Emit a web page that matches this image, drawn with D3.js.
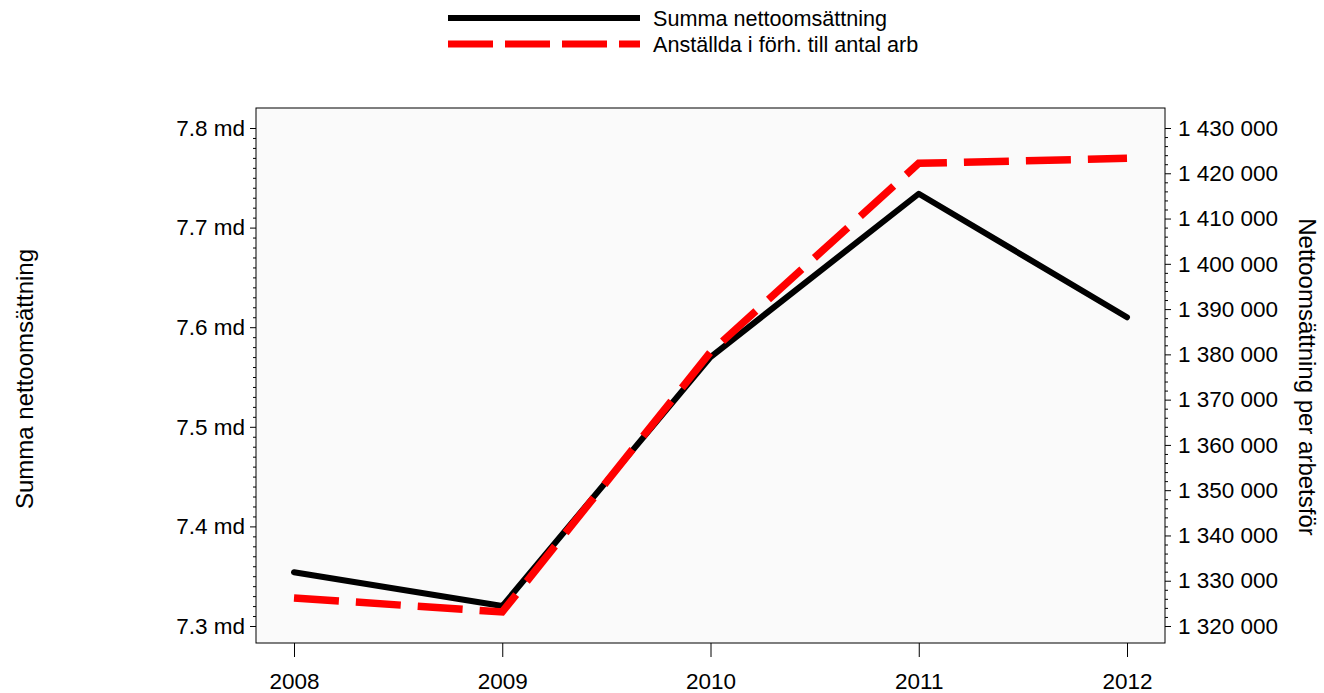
<!DOCTYPE html>
<html lang="sv">
<head>
<meta charset="UTF-8">
<title>Nettoomsättning</title>
<script src="https://d3js.org/d3.v7.min.js"></script>
<style>
    body { margin: 0; background: #ffffff; font-family: "Liberation Sans", Arial, sans-serif; }
    svg text { fill: #000; }
</style>
</head>
<body>
<svg id="chart" width="1324" height="693"></svg>
<script>
    // data
    const years = [2008, 2009, 2010, 2011, 2012];
    const summaNetto = [7.354e9, 7.320e9, 7.570e9, 7.734e9, 7.610e9];
    const perArbetsfor = [1326200, 1323100, 1380500, 1422200, 1423300];
    const leftTicks = [7.3e9, 7.4e9, 7.5e9, 7.6e9, 7.7e9, 7.8e9];
    const rightTicks = [1320000, 1330000, 1340000, 1350000, 1360000, 1370000, 1380000, 1390000, 1400000, 1410000, 1420000, 1430000];
    const seriesNames = ["Summa nettoomsättning", "Anställda i förh. till antal arb"];

    const svg = d3.select("#chart");
    const plot = { left: 256, right: 1165, top: 108, bottom: 643 };
    const font = "Liberation Sans, Arial, sans-serif";

    const x = d3.scalePoint().domain(years).range([294, 1127]);
    const yL = d3.scaleLinear().domain([7.3e9, 7.8e9]).range([626, 128]);
    const yR = d3.scaleLinear().domain([1320000, 1430000]).range([626, 128]);

    svg.append("rect")
        .attr("x", plot.left).attr("y", plot.top)
        .attr("width", plot.right - plot.left).attr("height", plot.bottom - plot.top)
        .attr("fill", "#fafafa").attr("stroke", "#000").attr("stroke-width", 1);

    const fmtL = d => (d / 1e9).toFixed(1) + " md";
    const fmtR = d => d3.format(",")(d).replace(/,/g, " ");

    // minor ticks
    const minorL = d3.range(7.3e9, 7.8e9 + 1, 1e7).filter(v => !leftTicks.some(t => Math.abs(t - v) < 1));
    svg.append("g").attr("transform", `translate(${plot.left},0)`)
        .call(d3.axisLeft(yL).tickValues(minorL).tickSize(3).tickFormat(""))
        .call(g => g.select(".domain").remove());
    const minorR = d3.range(1320000, 1430001, 2000).filter(v => v % 10000 !== 0);
    svg.append("g").attr("transform", `translate(${plot.right},0)`)
        .call(d3.axisRight(yR).tickValues(minorR).tickSize(3).tickFormat(""))
        .call(g => g.select(".domain").remove());

    // major axes
    const gL = svg.append("g").attr("transform", `translate(${plot.left},0)`)
        .call(d3.axisLeft(yL).tickValues(leftTicks).tickSize(6).tickPadding(5).tickFormat(fmtL));
    gL.select(".domain").remove();
    gL.selectAll("text").attr("font-size", 22.5).attr("font-family", font);

    const gR = svg.append("g").attr("transform", `translate(${plot.right},0)`)
        .call(d3.axisRight(yR).tickValues(rightTicks).tickSize(6).tickPadding(7).tickFormat(fmtR));
    gR.select(".domain").remove();
    gR.selectAll("text").attr("font-size", 22.5).attr("font-family", font);

    const gX = svg.append("g").attr("transform", `translate(0,${plot.bottom})`)
        .call(d3.axisBottom(x).tickSize(14).tickPadding(16));
    gX.select(".domain").remove();
    gX.selectAll("text").attr("font-size", 22.5).attr("font-family", font);
    svg.selectAll(".tick line").attr("stroke", "#000");

    // axis titles
    svg.append("text")
        .attr("transform", "translate(33,379) rotate(-90)")
        .attr("text-anchor", "middle").attr("font-size", 24).attr("font-family", font)
        .text("Summa nettoomsättning");
    svg.append("text")
        .attr("transform", "translate(1299,377) rotate(90)")
        .attr("text-anchor", "middle").attr("font-size", 24).attr("font-family", font)
        .text("Nettoomsättning per arbetsför");

    // lines
    const lineL = d3.line().x((d, i) => x(years[i])).y(d => yL(d));
    const lineR = d3.line().x((d, i) => x(years[i])).y(d => yR(d));

    svg.append("path").datum(summaNetto)
        .attr("d", lineL).attr("fill", "none")
        .attr("stroke", "#000").attr("stroke-width", 6)
        .attr("stroke-linejoin", "round").attr("stroke-linecap", "round");

    svg.append("path").datum(perArbetsfor)
        .attr("d", lineR).attr("fill", "none")
        .attr("stroke", "#ff0000").attr("stroke-width", 7.5)
        .attr("stroke-dasharray", "45,17");

    // legend
    const legend = svg.append("g");
    legend.append("line").attr("x1", 448).attr("x2", 640).attr("y1", 18).attr("y2", 18)
        .attr("stroke", "#000").attr("stroke-width", 6);
    legend.append("line").attr("x1", 448).attr("x2", 640).attr("y1", 44).attr("y2", 44)
        .attr("stroke", "#ff0000").attr("stroke-width", 7).attr("stroke-dasharray", "45,12");
    seriesNames.forEach((name, i) => {
        legend.append("text").attr("x", 653).attr("y", 18 + i * 26 + 8)
            .attr("font-size", 21.6).attr("font-family", font).text(name);
    });
</script>
</body>
</html>
